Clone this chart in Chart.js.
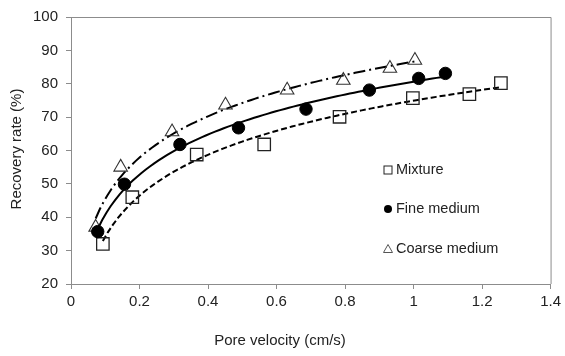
<!DOCTYPE html>
<html>
<head>
<meta charset="utf-8">
<script src="https://cdn.jsdelivr.net/npm/chart.js@4.4.1/dist/chart.umd.min.js"></script>
<style>
html,body{margin:0;padding:0;background:#fff;}
#wrap{width:565px;height:356px;position:relative;}
</style>
</head>
<body>
<div id="wrap"><canvas id="c" width="565" height="356"></canvas></div>
<script>
// ---- data ----
const seriesNames = ["Mixture", "Fine medium", "Coarse medium"];
const mixtureX = [0.093, 0.179, 0.367, 0.564, 0.784, 0.998, 1.163, 1.255];
const mixtureY = [32, 46, 58.8, 61.8, 70.1, 75.7, 76.9, 80.2];
const fineX = [0.078, 0.156, 0.318, 0.489, 0.686, 0.871, 1.015, 1.093];
const fineY = [35.7, 49.9, 61.8, 66.8, 72.4, 78.1, 81.6, 83.1];
const coarseX = [0.072, 0.145, 0.295, 0.451, 0.631, 0.795, 0.931, 1.004];
const coarseY = [37, 55, 65.6, 73.6, 78.1, 81, 84.6, 87];
const xTicks = [0, 0.2, 0.4, 0.6, 0.8, 1, 1.2, 1.4];
const yTicks = [20, 30, 40, 50, 60, 70, 80, 90, 100];
const xTitle = "Pore velocity (cm/s)";
const yTitle = "Recovery rate (%)";

const FONT = "'Liberation Sans', Arial, sans-serif";

function pts(xs, ys){ return xs.map((x,i)=>({x:x, y:ys[i]})); }

// logarithmic trendline (least squares on ln x), like the spreadsheet's trendline
function logTrend(xs, ys){
  const n = xs.length;
  let sl=0, sy=0, sll=0, sly=0;
  for(let i=0;i<n;i++){ const l=Math.log(xs[i]); sl+=l; sy+=ys[i]; sll+=l*l; sly+=l*ys[i]; }
  const a = (n*sly - sl*sy)/(n*sll - sl*sl);
  const b = (sy - a*sl)/n;
  const x0 = Math.min(...xs), x1 = Math.max(...xs);
  const out = [];
  const steps = 80;
  for(let k=0;k<=steps;k++){ const x = x0 + (x1-x0)*k/steps; out.push({x:x, y:a*Math.log(x)+b}); }
  return out;
}

const datasets = [
  {label: seriesNames[1], data: pts(fineX, fineY), showLine:false, pointStyle:'circle', pointRadius:6.2,
   backgroundColor:'#000', borderColor:'#000', borderWidth:1},
  {label: seriesNames[0], data: pts(mixtureX, mixtureY), showLine:false, pointStyle:'rect', pointRadius:8.8,
   backgroundColor:'rgba(255,255,255,0)', borderColor:'#222', borderWidth:1.3},
  {label: seriesNames[2], data: pts(coarseX, coarseY), showLine:false, pointStyle:'triangle', pointRadius:7.8,
   backgroundColor:'rgba(255,255,255,0)', borderColor:'#333', borderWidth:1.1},
  {label: 'fine trend', data: logTrend(fineX, fineY), showLine:true, pointRadius:0, borderColor:'#000', borderWidth:2, tension:0},
  {label: 'mixture trend', data: logTrend(mixtureX, mixtureY), showLine:true, pointRadius:0, borderColor:'#000', borderWidth:2, borderDash:[6,3], tension:0},
  {label: 'coarse trend', data: logTrend(coarseX, coarseY), showLine:true, pointRadius:0, borderColor:'#000', borderWidth:2, borderDash:[12,4,2,4], tension:0}
];

const decor = {
  id:'decor',
  afterDraw(chart){
    const ctx = chart.ctx, a = chart.chartArea;
    ctx.save();
    // plot border (top & right)
    ctx.strokeStyle = '#8c8c8c'; ctx.lineWidth = 1;
    ctx.beginPath();
    ctx.moveTo(a.left, a.top+0.5); ctx.lineTo(a.right+0.5, a.top+0.5); ctx.lineTo(a.right+0.5, a.bottom);
    ctx.stroke();
    // axis titles
    ctx.fillStyle = '#222';
    ctx.font = '15px ' + FONT;
    ctx.textAlign = 'center'; ctx.textBaseline = 'middle';
    ctx.fillText(xTitle, 280, 341);
    ctx.translate(17, 149); ctx.rotate(-Math.PI/2);
    ctx.fillText(yTitle, 0, 0);
    ctx.restore();
    // legend
    ctx.save();
    const lx = 388, rows = [170, 209, 249];
    ctx.font = '14.5px ' + FONT; ctx.fillStyle = '#222'; ctx.textAlign='left'; ctx.textBaseline='middle';
    // Mixture square
    ctx.strokeStyle = '#222'; ctx.lineWidth = 1;
    ctx.strokeRect(lx-4, rows[0]-4, 8, 8);
    ctx.fillText(seriesNames[0], lx+8, rows[0]);
    // Fine circle
    ctx.fillStyle = '#000';
    ctx.beginPath(); ctx.arc(lx, rows[1], 4, 0, Math.PI*2); ctx.fill();
    ctx.fillStyle = '#222';
    ctx.fillText(seriesNames[1], lx+8, rows[1]);
    // Coarse triangle
    ctx.strokeStyle = '#555';
    ctx.beginPath(); ctx.moveTo(lx, rows[2]-4.5); ctx.lineTo(lx+4.5, rows[2]+3.5); ctx.lineTo(lx-4.5, rows[2]+3.5); ctx.closePath(); ctx.stroke();
    ctx.fillText(seriesNames[2], lx+8, rows[2]);
    ctx.restore();
  }
};

new Chart(document.getElementById('c'), {
  type:'scatter',
  data:{datasets:datasets},
  options:{
    responsive:false, animation:false, devicePixelRatio:1,
    layout:{padding:{top:14, right:10, left:0, bottom:0}},
    plugins:{legend:{display:false}, tooltip:{enabled:false}},
    scales:{
      x:{type:'linear', min:0, max:1.4,
        afterBuildTicks(s){ s.ticks = xTicks.map(v=>({value:v})); },
        afterFit(s){ s.height = 72; },
        grid:{drawOnChartArea:false, drawTicks:true, tickLength:5, color:'#8c8c8c'},
        border:{color:'#8c8c8c', width:1},
        ticks:{font:{family:FONT, size:15}, color:'#222', padding:4, maxRotation:0,
          callback:(v)=>String(+v.toFixed(1))}
      },
      y:{type:'linear', min:20, max:100,
        afterBuildTicks(s){ s.ticks = yTicks.map(v=>({value:v})); },
        afterFit(s){ s.width = 71; },
        grid:{drawOnChartArea:false, drawTicks:true, tickLength:5, color:'#8c8c8c'},
        border:{color:'#8c8c8c', width:1},
        ticks:{font:{family:FONT, size:15}, color:'#222', padding:8}
      }
    }
  },
  plugins:[decor]
});
</script>
</body>
</html>
